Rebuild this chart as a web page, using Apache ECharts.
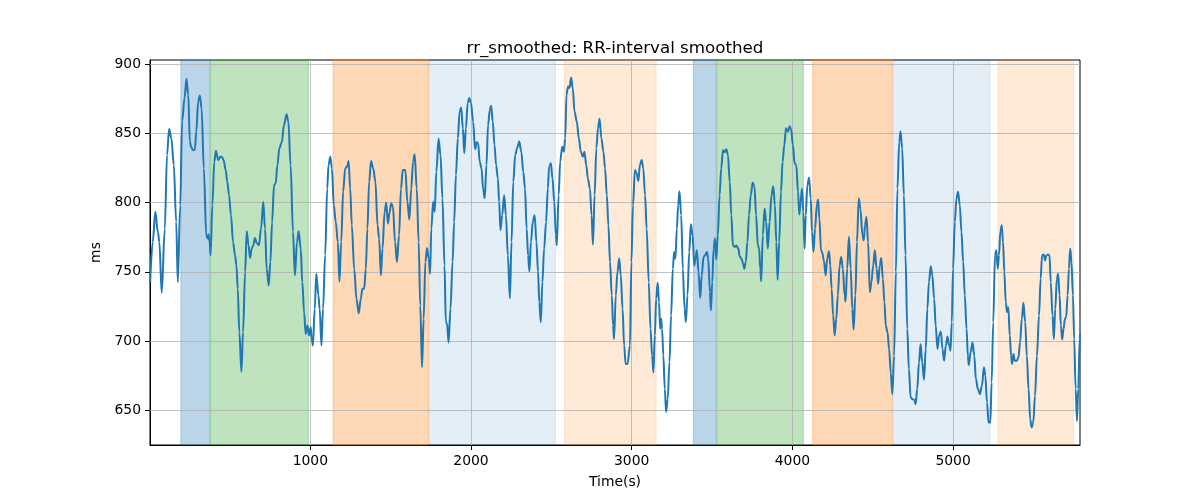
<!DOCTYPE html>
<html><head><meta charset="utf-8">
<script src="https://cdn.jsdelivr.net/npm/echarts@6/dist/echarts.min.js"></script>
<style>html,body{margin:0;padding:0;background:#fff}#c{width:1200px;height:500px}</style>
</head><body><div id="c"></div>
<script>
// ---- data ----
const times = [3,19,35,51,60,75,94,108,121,135,150,165,175,190,202,217,229,240,250,258,269,281,290,302,312,323,337,352,360,366,373,379,390,402,412,427,440,448,460,473,483,494,506,519,531,540,548,558,571,581,594,604,615,625,635,645,655,665,680,693,707,718,728,741,751,762,774,784,795,807,822,836,852,863,877,892,904,917,927,940,950,961,971,982,992,
1002,1008,1016,1027,1037,1050,1058,1069,1079,1092,1105,1113,1124,1134,1146,1158,1171,1181,1192,1204,1217,1229,1238,1248,1258,1273,1287,1301,1314,1324,1335,1345,1355,1366,1378,1391,1405,1418,1428,1439,1449,1462,1472,1483,1493,1503,1514,1527,1539,1552,1564,1575,1591,1604,1616,1628,1639,1649,1662,1674,1684,1695,1705,1716,1726,1737,1745,1753,1764,1774,1784,1798,1810,1822,1835,1843,1851,1860,1872,1885,1895,1906,1918,1929,1939,1949,1958,1968,1979,1989,
2000,2013,2025,2035,2044,2054,2065,2075,2085,2096,2106,2117,2125,2135,2146,2156,2167,2175,2183,2194,2206,2217,2229,2242,2252,2263,2275,2288,2300,2313,2325,2336,2346,2355,2363,2373,2384,2396,2407,2417,2425,2434,2444,2455,2467,2478,2486,2497,2507,2518,2528,2534,2545,2555,2567,2578,2586,2594,2604,2612,2623,2633,2644,2658,2671,2683,2696,2706,2717,2727,2740,2750,2759,2769,2780,2790,2800,2811,2824,2834,2845,2855,2865,2876,2884,2890,2901,2911,2922,2932,2943,2953,2962,2974,2989,
2998,3008,3020,3031,3041,3051,3062,3072,3083,3093,3106,3117,3127,3135,3144,3152,3162,3170,3177,3183,3189,3197,3206,3214,3224,3235,3245,3256,3264,3272,3281,3289,3297,3308,3318,3329,3337,3347,3358,3368,3379,3389,3397,3405,3416,3426,3436,3447,3457,3468,3476,3487,3493,3501,3510,3518,3526,3536,3547,3557,3568,3578,3589,3599,3610,3620,3630,3641,3651,3664,3672,3683,3693,3701,3710,3720,3730,3741,3753,3764,3774,3785,3793,3800,3806,3816,3827,3837,3847,3858,3870,3881,3891,3900,3908,3918,3929,3939,3950,3960,3973,3983,
3992,4003,4014,4024,4035,4043,4051,4060,4068,4076,4083,4093,4104,4114,4122,4131,4141,4152,4160,4168,4178,4186,4196,4207,4217,4228,4236,4244,4254,4263,4273,4283,4294,4304,4314,4325,4331,4341,4352,4363,4373,4381,4392,4402,4413,4423,4436,4444,4452,4461,4471,4482,4492,4503,4513,4524,4534,4544,4553,4563,4573,4581,4592,4602,4612,4622,4633,4644,4654,4665,4673,4683,4694,4704,4715,4725,4736,4748,4759,4767,4777,4788,4798,4808,4819,4830,4840,4850,4861,4871,4882,4892,4903,4913,4924,4934,4944,4955,4965,4976,
4984,4992,5000,5011,5021,5031,5042,5052,5063,5073,5084,5092,5098,5109,5121,5132,5142,5155,5167,5180,5192,5201,5211,5221,5232,5240,5250,5261,5269,5278,5286,5294,5303,5311,5319,5328,5336,5344,5353,5361,5367,5376,5384,5397,5407,5417,5428,5438,5449,5459,5470,5480,5489,5499,5510,5522,5535,5545,5554,5564,5573,5581,5592,5600,5608,5619,5627,5636,5646,5654,5663,5671,5679,5688,5696,5704,5713,5721,5729,5737,5746,5754,5763,5771,5779,5788,5790];
const values = [742.5,771.5,793.3,778.8,771.5,734.8,781,834.3,853.1,846.4,827,786,742.5,798,858.5,875.4,889.4,877.8,844,840,837.9,837.9,851.2,873,877.3,868,824.7,776.4,774,777,771.5,761.9,798,829.5,837.2,830.7,833.1,833,830.7,823.4,815,805.3,790.8,771.5,761.9,754.6,737.7,706.3,677.8,706.3,749.8,779.3,769.1,760,766.7,769.1,774.4,771,769.1,781.2,800.5,781.2,752.2,740.1,757,786,812.6,813.8,827,839.1,843.5,856,863.8,858.5,827,778.8,747.4,771.5,779.3,766.7,742.5,720.8,705,711.2,704,
710,702,696.7,723.2,748.6,733,723.2,696.7,723.2,761.9,810.2,827,833.1,824.7,798,786,771.5,743,771.5,807.8,824.7,826,830,810.2,783.6,752,730.5,720,730.5,737.7,737.7,752,781,815,830,824.7,815,783.6,774,747.4,766.7,793,799.8,784.8,793,799.3,797,771.5,757,776.4,810,823.4,823.4,800.5,787.7,810,829.5,834.8,810.2,771.5,725.6,681,716,757,767.2,759.5,748.6,781.2,800.5,793.3,822.2,846,834.3,803,754.6,713.6,712.4,699,723.2,757,786,819.8,846.4,865.7,868.6,853.6,835.5,853.6,871.7,875.4,
871.7,858.5,838.4,843.5,842.8,829.5,824.7,810.2,803,827,856,867,869.8,858.5,841.6,827,817.4,800.5,780,791,805.3,791,761.9,730.9,771.5,815,834.3,839.6,844,836.7,822.2,810.2,781.2,761.9,750.3,771.5,786,790.8,771.5,749.8,728,713.6,742.5,766.7,786,810.2,825.9,828.3,817.4,800.5,776.4,769.1,805.3,829.5,840.3,836.7,846.4,877.8,883.8,882.6,890.3,882.6,865.7,858.5,846.4,836.7,833.1,836.7,827,817.4,810.2,790.8,769.6,805.3,839.1,853.6,860.4,846.4,836.7,824.7,805.3,783.6,757,732.9,711.2,701.5,732.9,749.8,759.5,747.4,723.2,696.7,683.4,683.4,696.7,
757,798,823.4,821,815.5,827,830.7,824.7,805.3,781.2,742.5,708.8,689.4,677.3,704,730.5,742,728,708.8,716,708.8,689.4,665.3,648.8,658,684.6,718.4,752.2,764.3,759.5,781.2,798,808.2,790.8,752.2,723.2,713.6,732.9,764.3,784.3,776.4,754.6,759.4,765.5,749.8,731,747.4,760.6,761.9,764.3,759.5,735.3,722,742.5,766.7,774,759,776.4,805.3,824.7,838,836.3,838.4,834.3,815,790.8,769,767.9,769,766.7,761.1,759.5,755.8,752.2,757,771.5,790.8,805.3,814.5,811.4,790.8,769,766.7,752.2,743,776.4,795.7,786,766.7,786,805.3,811.8,798,771.5,744.2,771.5,807.8,829.5,841.6,853.6,851.2,855,
853,841.6,828.3,827,807.8,791.3,800.5,810.2,793.3,766.7,790.8,812.6,818,803,778.8,764.3,781.2,798,802.2,788.4,765.5,763.8,758.2,747.4,759.5,764.8,754.6,737.7,718.4,703.9,716,733,754.6,760.6,752.2,733,728.6,752.2,775.2,752.2,723.2,708.3,733,771.5,803,795.7,776.4,772.7,783.6,789.6,771.5,735.3,742.5,754.6,765.5,752.2,741.3,754.6,760,745,728,711.2,706.3,694.3,677.3,661.6,689.4,749.8,810.2,844,851.2,839.1,805.3,761.9,708.8,679.8,659.2,658,657.5,654.4,665.3,684.6,697.9,684.6,672,694.3,723.2,742.5,754,747.4,730.5,711.2,694.3,704,706.8,694.3,685.8,696.7,703.2,696.7,
693,713.6,752.2,786,803,807.8,798,778.8,757,732.9,708.8,689.4,682.6,691.8,699,689.4,672.5,665.3,661.6,667.7,681,675,655.6,641.1,641.1,670.1,713.6,761.9,765.5,752.2,761.9,778.8,783.6,771.5,749.8,728,720.8,724.4,703.9,689.4,683.4,690.6,685.8,685.8,688.2,699,716,727.6,713.6,689.4,665.3,643.5,637.5,641.1,660.4,689.4,718.4,745,761.9,762.4,758.2,761.9,762.4,761.9,742.5,718.4,701.5,723.2,745,748.6,733,711.2,701,708.8,716,717.2,733,752.2,766.7,757,733,701.5,665.3,642.3,665.3,701.5,705];

const bandStart = [194, 379, 1141, 1740, 2581, 3384, 3530, 4126, 4626, 5279];
const bandEnd   = [375, 988, 1735, 2525, 3152, 3526, 4068, 4622, 5229, 5750];
const bandKind  = ['A','B','C','D','E','A','B','C','D','E'];

const xTicks = [1000, 2000, 3000, 4000, 5000];
const yTicks = [650, 700, 750, 800, 850, 900];

const titleText = 'rr_smoothed: RR-interval smoothed';
const xName = 'Time(s)';
const yName = 'ms';

// ---- styles ----
const kindColor = {
  A: 'rgba(31,119,180,0.3)',
  B: 'rgba(44,160,44,0.3)',
  C: 'rgba(255,127,14,0.3)',
  D: 'rgba(31,119,180,0.12)',
  E: 'rgba(255,127,14,0.16)'
};
const FONT = 'DejaVu Sans';

const lineData = times.map((t, i) => [t, values[i]]);
const areas = bandStart.map((s, i) => [
  { xAxis: s, itemStyle: { color: kindColor[bandKind[i]], borderColor: kindColor[bandKind[i]], borderWidth: 1 } },
  { xAxis: bandEnd[i] }
]);
const gridLines = xTicks.map(v => ({ xAxis: v })).concat(yTicks.map(v => ({ yAxis: v })));

const chart = echarts.init(document.getElementById('c'), null, { renderer: 'canvas' });
chart.setOption({
  animation: false,
  backgroundColor: '#fff',
  title: {
    text: titleText, left: 610, top: 35, textAlign: 'center',
    textStyle: { fontFamily: FONT, fontSize: 16.7, fontWeight: 'normal', color: '#000' }
  },
  grid: { left: 150, right: 120, top: 60, bottom: 55, show: true, borderColor: '#000', borderWidth: 1, backgroundColor: 'transparent' },
  xAxis: {
    type: 'value', min: 2, max: 5790,
    name: xName, nameLocation: 'middle', nameGap: 30,
    nameTextStyle: { fontFamily: FONT, fontSize: 13.9, color: '#000' },
    axisLine: { show: true, lineStyle: { color: '#000', width: 1 } },
    axisTick: { show: true, length: 5, lineStyle: { color: '#000' }, customValues: xTicks },
    axisLabel: { customValues: xTicks, margin: 9, fontFamily: FONT, fontSize: 13.9, color: '#000', formatter: v => String(v) },
    splitLine: { show: false }
  },
  yAxis: {
    type: 'value', min: 624.9, max: 902.9,
    name: yName, nameLocation: 'middle', nameGap: 38, nameRotate: 90,
    nameTextStyle: { fontFamily: FONT, fontSize: 13.9, color: '#000' },
    axisLine: { show: true, lineStyle: { color: '#000', width: 1 } },
    axisTick: { show: true, length: 5, lineStyle: { color: '#000' }, customValues: yTicks },
    axisLabel: { customValues: yTicks, margin: 9, fontFamily: FONT, fontSize: 13.9, color: '#000', formatter: v => String(v) },
    splitLine: { show: false }
  },
  series: [
    {
      type: 'line', data: [], silent: true, z: 1,
      markArea: { silent: true, data: areas },
      markLine: {
        silent: true, symbol: 'none', label: { show: false },
        lineStyle: { color: '#b0b0b0', width: 0.8, type: 'solid' },
        emphasis: { disabled: true },
        data: gridLines
      }
    },
    {
      type: 'line', data: lineData, zlevel: 1, z: 10,
      showSymbol: false, smooth: 0.35, smoothMonotone: 'x',
      lineStyle: { color: '#1f77b4', width: 2 },
      itemStyle: { color: '#1f77b4' },
      silent: true
    }
  ]
});
</script>
</body></html>
